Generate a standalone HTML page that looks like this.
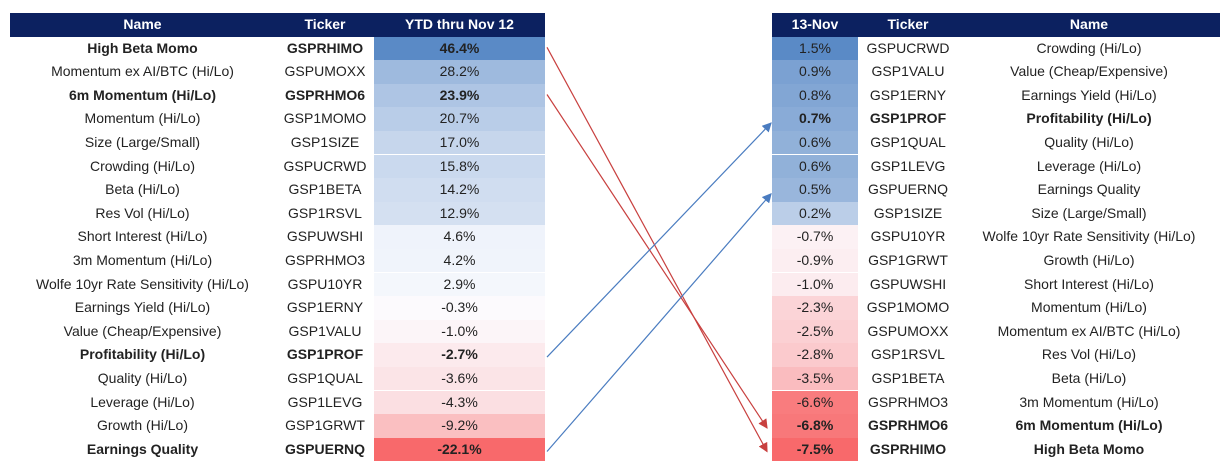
<!DOCTYPE html>
<html><head><meta charset="utf-8"><style>
body{margin:0;width:1230px;height:475px;background:#fff;font-family:"Liberation Sans",sans-serif;position:relative;overflow:hidden}
.t{position:absolute;top:13px}
.row{position:absolute;left:0;height:23.6px;line-height:23.6px;font-size:14px;color:#222}
.c{position:absolute;top:0;height:100%;text-align:center;white-space:nowrap}
.hd{background:#0c2160;color:#fff;font-weight:bold}
.b{font-weight:bold}
</style></head><body>
<div id="L" class="t" style="left:10px;width:535px"></div>
<div id="R" class="t" style="left:772px;width:448px"></div>
<svg id="arrows" width="1230" height="475" style="position:absolute;left:0;top:0">
<defs><marker id="mr" markerWidth="8" markerHeight="8" refX="7" refY="4" orient="auto"><path d="M0,0L8,4L0,8z" fill="#c8403f"/></marker>
<marker id="mb" markerWidth="8" markerHeight="8" refX="7" refY="4" orient="auto"><path d="M0,0L8,4L0,8z" fill="#4a7cc0"/></marker></defs>
</svg>
<script>
const leftNames=["High Beta Momo","Momentum ex AI/BTC  (Hi/Lo)","6m Momentum (Hi/Lo)","Momentum (Hi/Lo)","Size (Large/Small)","Crowding (Hi/Lo)","Beta (Hi/Lo)","Res Vol (Hi/Lo)","Short Interest (Hi/Lo)","3m Momentum (Hi/Lo)","Wolfe 10yr Rate Sensitivity (Hi/Lo)","Earnings Yield (Hi/Lo)","Value (Cheap/Expensive)","Profitability (Hi/Lo)","Quality (Hi/Lo)","Leverage (Hi/Lo)","Growth (Hi/Lo)","Earnings Quality"];
const leftTickers=["GSPRHIMO","GSPUMOXX","GSPRHMO6","GSP1MOMO","GSP1SIZE","GSPUCRWD","GSP1BETA","GSP1RSVL","GSPUWSHI","GSPRHMO3","GSPU10YR","GSP1ERNY","GSP1VALU","GSP1PROF","GSP1QUAL","GSP1LEVG","GSP1GRWT","GSPUERNQ"];
const leftValues=[46.4,28.2,23.9,20.7,17.0,15.8,14.2,12.9,4.6,4.2,2.9,-0.3,-1.0,-2.7,-3.6,-4.3,-9.2,-22.1];
const rightNames=["Crowding (Hi/Lo)","Value (Cheap/Expensive)","Earnings Yield (Hi/Lo)","Profitability (Hi/Lo)","Quality (Hi/Lo)","Leverage (Hi/Lo)","Earnings Quality","Size (Large/Small)","Wolfe 10yr Rate Sensitivity (Hi/Lo)","Growth (Hi/Lo)","Short Interest (Hi/Lo)","Momentum (Hi/Lo)","Momentum ex AI/BTC  (Hi/Lo)","Res Vol (Hi/Lo)","Beta (Hi/Lo)","3m Momentum (Hi/Lo)","6m Momentum (Hi/Lo)","High Beta Momo"];
const rightTickers=["GSPUCRWD","GSP1VALU","GSP1ERNY","GSP1PROF","GSP1QUAL","GSP1LEVG","GSPUERNQ","GSP1SIZE","GSPU10YR","GSP1GRWT","GSPUWSHI","GSP1MOMO","GSPUMOXX","GSP1RSVL","GSP1BETA","GSPRHMO3","GSPRHMO6","GSPRHIMO"];
const rightValues=[1.5,0.9,0.8,0.7,0.6,0.6,0.5,0.2,-0.7,-0.9,-1.0,-2.3,-2.5,-2.8,-3.5,-6.6,-6.8,-7.5];
const leftBold=["High Beta Momo","6m Momentum (Hi/Lo)","Profitability (Hi/Lo)","Earnings Quality"];
const rightBold=["High Beta Momo","6m Momentum (Hi/Lo)","Profitability (Hi/Lo)"];
const arrows=[["High Beta Momo","r"],["6m Momentum (Hi/Lo)","r"],["Profitability (Hi/Lo)","b"],["Earnings Quality","b"]];
const RH=23.6,HH=23.5;
function color(v,max,min,pp,pn){
  let a=[252,252,255],b,t;
  if(v>=0){t=Math.pow(v/max,pp);b=[90,138,198];}
  else{t=Math.pow(v/min,pn);b=[248,105,107];}
  const c=a.map((x,i)=>Math.round(x+(b[i]-x)*t));return `rgb(${c})`;
}
function cell(row,left,width,text){const d=document.createElement('div');d.className='c';d.style.left=left+'px';d.style.width=width+'px';d.textContent=text;row.appendChild(d);return d;}
function build(el,cols,names,tickers,vals,fmt,bold,pp,pn){
  const h=document.createElement('div');h.className='row hd';h.style.top='0';h.style.width='100%';h.style.height=HH+'px';h.style.lineHeight=HH+'px';
  
  
  cols.forEach(c=>cell(h,c.l,c.w,c.h));el.appendChild(h);
  const max=Math.max(...vals),min=Math.min(...vals);
  names.forEach((n,i)=>{
    const r=document.createElement('div');r.className='row'+(bold.includes(n)?' b':'');r.style.top=(HH+i*RH)+'px';r.style.width='100%';
    
    
    cols.forEach(c=>{const txt=c.k==='n'?n:c.k==='t'?tickers[i]:fmt(vals[i]);const d=cell(r,c.l,c.w,txt);if(c.k==='v')d.style.background=color(vals[i],max,min,pp,pn);});
    el.appendChild(r);
  });
}
const f=v=>v.toFixed(1)+'%';
build(document.getElementById('L'),[{l:0,w:265,h:'Name',k:'n'},{l:265,w:100,h:'Ticker',k:'t'},{l:364,w:171,h:'YTD thru Nov 12',k:'v'}],leftNames,leftTickers,leftValues,f,leftBold,1.1,1);
build(document.getElementById('R'),[{l:0,w:86,h:'13-Nov',k:'v'},{l:86,w:100,h:'Ticker',k:'t'},{l:186,w:262,h:'Name',k:'n'}],rightNames,rightTickers,rightValues,f,rightBold,0.45,1.1);
const svg=document.getElementById('arrows');
const yc=i=>13+HH+i*RH+RH/2;
arrows.forEach(([n,c])=>{
  const i=leftNames.indexOf(n),j=rightNames.indexOf(n);
  const l=document.createElementNS('http://www.w3.org/2000/svg','line');
  l.setAttribute('x1',547);l.setAttribute('y1',yc(i)+(c==='r'?-1:2));
  l.setAttribute('x2',c==='r'?767:771);l.setAttribute('y2',yc(j)+(c==='r'?2:4));
  l.setAttribute('stroke',c==='r'?'#c8403f':'#4a7cc0');l.setAttribute('stroke-width','1.2');
  l.setAttribute('marker-end',c==='r'?'url(#mr)':'url(#mb)');
  
  
  svg.appendChild(l);
});
</script>
</body></html>
